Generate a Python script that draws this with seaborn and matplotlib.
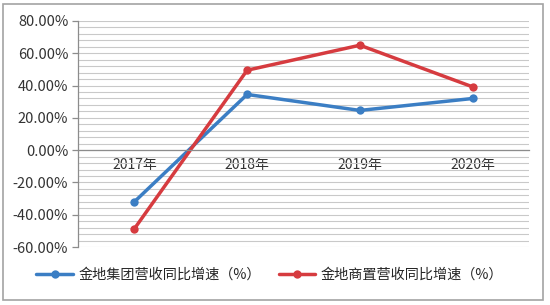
import matplotlib
matplotlib.use("Agg")
import matplotlib.pyplot as plt
from matplotlib.patches import Rectangle
from matplotlib.ticker import MultipleLocator, FuncFormatter
import seaborn as sns
import pandas as pd

years = ["2017年", "2018年", "2019年", "2020年"]
series_names = ["金地集团营收同比增速（%）", "金地商置营收同比增速（%）"]
group_growth = [-32, 34.5, 24.6, 32]
commercial_growth = [-48.7, 49.5, 65, 39.2]

df = pd.DataFrame({
    "year": years * 2,
    "value": group_growth + commercial_growth,
    "series": [series_names[0]] * 4 + [series_names[1]] * 4,
})

sns.set_theme(style="white")
plt.rcParams["font.family"] = ["Noto Sans CJK SC", "DejaVu Sans"]

fig = plt.figure(figsize=(5.5, 3.05), dpi=100)
ax = fig.add_axes([78 / 550, 1 - 247 / 305, (529 - 78) / 550, (247 - 21) / 305])

palette = {series_names[0]: "#3b7ec4", series_names[1]: "#d63b3f"}
sns.lineplot(data=df, x="year", y="value", hue="series", palette=palette,
             marker="o", markersize=6, markeredgewidth=0, linewidth=2.5,
             ax=ax, sort=False)

ax.set_xlim(-0.5, 3.5)
ax.set_ylim(-60, 80)
ax.yaxis.set_major_locator(MultipleLocator(20))
ax.yaxis.set_minor_locator(MultipleLocator(4))
ax.yaxis.set_major_formatter(FuncFormatter(lambda v, p: f"{v:.2f}%"))
ax.grid(True, which="both", axis="y", color="#c9c9c9", linewidth=0.8)
ax.set_axisbelow(True)

for s in ["top", "right"]:
    ax.spines[s].set_visible(False)
ax.spines["left"].set_color("#8c8c8c")
ax.spines["left"].set_linewidth(0.9)
ax.spines["bottom"].set_position(("data", 0))
ax.spines["bottom"].set_color("#8c8c8c")
ax.spines["bottom"].set_linewidth(0.9)

ax.set_xticks(range(len(years)))
ax.set_xticklabels(years)
ax.set_xticks([-0.5, 0.5, 1.5, 2.5, 3.5], minor=True)
ax.tick_params(axis="x", which="major", length=0, pad=6, labelsize=10, colors="#333333")
ax.tick_params(axis="x", which="minor", length=4, color="#8c8c8c", width=0.9, direction="out")
ax.tick_params(axis="y", which="major", length=4, color="#8c8c8c", width=0.9, direction="out",
               left=True, labelsize=10.5, colors="#333333", pad=3)
ax.tick_params(axis="y", which="minor", length=0)
ax.set_xlabel("")
ax.set_ylabel("")

handles, labels = ax.get_legend_handles_labels()
ax.legend_.remove()
fig.legend(handles, labels, loc="center", bbox_to_anchor=(270 / 550, 1 - 275 / 305),
           ncol=2, frameon=False, fontsize=10.2, handlelength=2.6, columnspacing=1.2,
           handletextpad=0.4)

fig.patches.append(Rectangle((3 / 550, 1 - 300 / 305), 540 / 550, 296 / 305,
                             transform=fig.transFigure, fill=False,
                             edgecolor="#a3a3a3", linewidth=1.2))

fig.savefig("out.png", dpi=100)
